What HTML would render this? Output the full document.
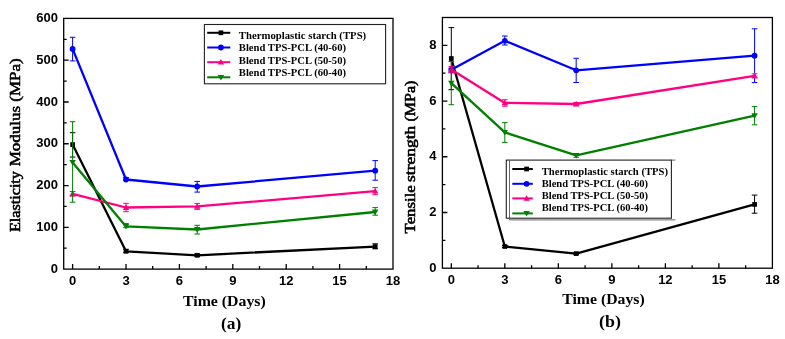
<!DOCTYPE html>
<html><head><meta charset="utf-8"><style>
html,body{margin:0;padding:0;background:#fff;}
svg{display:block;will-change:transform;}
.tk{font-family:"Liberation Sans",sans-serif;font-weight:bold;font-size:13px;fill:#000;}
.ax{font-family:"Liberation Serif",serif;font-weight:bold;font-size:14.5px;fill:#000;}
.axr{font-family:"Liberation Serif",serif;font-weight:normal;font-size:14.5px;fill:#000;stroke:#000;stroke-width:0.55px;}
.lg{font-family:"Liberation Serif",serif;font-weight:bold;font-size:11px;fill:#000;}
</style></head><body>
<svg width="785" height="339" viewBox="0 0 785 339">
<rect width="785" height="339" fill="#fff"/>
<rect x="63.7" y="18.4" width="329.30" height="250.70" fill="none" stroke="#000" stroke-width="1.3"/>
<path d="M72.60 269.10 V264.10 M126.00 269.10 V264.10 M179.40 269.10 V264.10 M232.80 269.10 V264.10 M286.20 269.10 V264.10 M339.60 269.10 V264.10 M99.30 269.10 V266.10 M152.70 269.10 V266.10 M206.10 269.10 V266.10 M259.50 269.10 V266.10 M312.90 269.10 V266.10 M366.30 269.10 V266.10 M63.70 227.32 H68.70 M63.70 185.54 H68.70 M63.70 143.76 H68.70 M63.70 101.98 H68.70 M63.70 60.20 H68.70 M63.70 248.21 H66.70 M63.70 206.43 H66.70 M63.70 164.65 H66.70 M63.70 122.87 H66.70 M63.70 81.09 H66.70 M63.70 39.31 H66.70 " stroke="#000" stroke-width="1.3" fill="none"/>
<text x="72.60" y="284.60" class="tk" text-anchor="middle">0</text>
<text x="126.00" y="284.60" class="tk" text-anchor="middle">3</text>
<text x="179.40" y="284.60" class="tk" text-anchor="middle">6</text>
<text x="232.80" y="284.60" class="tk" text-anchor="middle">9</text>
<text x="286.20" y="284.60" class="tk" text-anchor="middle">12</text>
<text x="339.60" y="284.60" class="tk" text-anchor="middle">15</text>
<text x="393.00" y="284.60" class="tk" text-anchor="middle">18</text>
<text x="57.90" y="272.70" class="tk" text-anchor="end">0</text>
<text x="57.90" y="230.92" class="tk" text-anchor="end">100</text>
<text x="57.90" y="189.14" class="tk" text-anchor="end">200</text>
<text x="57.90" y="147.36" class="tk" text-anchor="end">300</text>
<text x="57.90" y="105.58" class="tk" text-anchor="end">400</text>
<text x="57.90" y="63.80" class="tk" text-anchor="end">500</text>
<text x="57.90" y="22.02" class="tk" text-anchor="end">600</text>
<rect x="442.4" y="17.5" width="330.00" height="250.70" fill="none" stroke="#000" stroke-width="1.3"/>
<path d="M451.30 268.20 V263.20 M504.82 268.20 V263.20 M558.34 268.20 V263.20 M611.86 268.20 V263.20 M665.38 268.20 V263.20 M718.90 268.20 V263.20 M478.06 268.20 V265.20 M531.58 268.20 V265.20 M585.10 268.20 V265.20 M638.62 268.20 V265.20 M692.14 268.20 V265.20 M745.66 268.20 V265.20 M442.40 212.48 H447.40 M442.40 156.76 H447.40 M442.40 101.04 H447.40 M442.40 45.32 H447.40 M442.40 240.34 H445.40 M442.40 184.62 H445.40 M442.40 128.90 H445.40 M442.40 73.18 H445.40 " stroke="#000" stroke-width="1.3" fill="none"/>
<text x="451.30" y="283.70" class="tk" text-anchor="middle">0</text>
<text x="504.82" y="283.70" class="tk" text-anchor="middle">3</text>
<text x="558.34" y="283.70" class="tk" text-anchor="middle">6</text>
<text x="611.86" y="283.70" class="tk" text-anchor="middle">9</text>
<text x="665.38" y="283.70" class="tk" text-anchor="middle">12</text>
<text x="718.90" y="283.70" class="tk" text-anchor="middle">15</text>
<text x="772.42" y="283.70" class="tk" text-anchor="middle">18</text>
<text x="436.60" y="271.80" class="tk" text-anchor="end">0</text>
<text x="436.60" y="216.08" class="tk" text-anchor="end">2</text>
<text x="436.60" y="160.36" class="tk" text-anchor="end">4</text>
<text x="436.60" y="104.64" class="tk" text-anchor="end">6</text>
<text x="436.60" y="48.92" class="tk" text-anchor="end">8</text>
<path d="M72.60 144.60 L126.00 251.30 L197.20 255.30 L375.20 246.60" stroke="#000000" stroke-width="2.3" fill="none" stroke-linejoin="round"/>
<rect x="70.25" y="142.25" width="4.70" height="4.70" fill="#000000"/>
<rect x="123.65" y="248.95" width="4.70" height="4.70" fill="#000000"/>
<rect x="194.85" y="252.95" width="4.70" height="4.70" fill="#000000"/>
<rect x="372.85" y="244.25" width="4.70" height="4.70" fill="#000000"/>
<path d="M72.60 132.70 V157.10 M69.80 132.70 H75.40 M69.80 157.10 H75.40" stroke="#000000" stroke-width="1" fill="none"/>
<path d="M126.00 249.30 V252.30 M123.20 249.30 H128.80 M123.20 252.30 H128.80" stroke="#000000" stroke-width="1" fill="none"/>
<path d="M197.20 253.80 V256.40 M194.40 253.80 H200.00 M194.40 256.40 H200.00" stroke="#000000" stroke-width="1" fill="none"/>
<path d="M375.20 243.80 V248.80 M372.40 243.80 H378.00 M372.40 248.80 H378.00" stroke="#000000" stroke-width="1" fill="none"/>
<path d="M72.60 48.90 L126.00 179.50 L197.20 186.50 L375.20 170.70" stroke="#0000FF" stroke-width="2.3" fill="none" stroke-linejoin="round"/>
<circle cx="72.60" cy="48.90" r="2.90" fill="#0000FF"/>
<circle cx="126.00" cy="179.50" r="2.90" fill="#0000FF"/>
<circle cx="197.20" cy="186.50" r="2.90" fill="#0000FF"/>
<circle cx="375.20" cy="170.70" r="2.90" fill="#0000FF"/>
<path d="M72.60 37.30 V60.90 M69.80 37.30 H75.40 M69.80 60.90 H75.40" stroke="#0000FF" stroke-width="1" fill="none"/>
<path d="M126.00 177.50 V180.50 M123.20 177.50 H128.80 M123.20 180.50 H128.80" stroke="#0000FF" stroke-width="1" fill="none"/>
<path d="M197.20 181.40 V192.10 M194.40 181.40 H200.00 M194.40 192.10 H200.00" stroke="#0000FF" stroke-width="1" fill="none"/>
<path d="M375.20 160.60 V180.20 M372.40 160.60 H378.00 M372.40 180.20 H378.00" stroke="#0000FF" stroke-width="1" fill="none"/>
<path d="M72.60 193.80 L126.00 207.50 L197.20 206.40 L375.20 191.20" stroke="#FF0080" stroke-width="2.3" fill="none" stroke-linejoin="round"/>
<path d="M72.60 190.60 L75.80 196.20 L69.40 196.20Z" fill="#FF0080"/>
<path d="M126.00 204.30 L129.20 209.90 L122.80 209.90Z" fill="#FF0080"/>
<path d="M197.20 203.20 L200.40 208.80 L194.00 208.80Z" fill="#FF0080"/>
<path d="M375.20 188.00 L378.40 193.60 L372.00 193.60Z" fill="#FF0080"/>
<path d="M72.60 191.50 V196.10 M69.80 191.50 H75.40 M69.80 196.10 H75.40" stroke="#FF0080" stroke-width="1" fill="none"/>
<path d="M126.00 203.30 V211.70 M123.20 203.30 H128.80 M123.20 211.70 H128.80" stroke="#FF0080" stroke-width="1" fill="none"/>
<path d="M197.20 203.40 V209.40 M194.40 203.40 H200.00 M194.40 209.40 H200.00" stroke="#FF0080" stroke-width="1" fill="none"/>
<path d="M375.20 187.60 V194.70 M372.40 187.60 H378.00 M372.40 194.70 H378.00" stroke="#FF0080" stroke-width="1" fill="none"/>
<path d="M72.60 162.40 L126.00 226.40 L197.20 229.50 L375.20 212.00" stroke="#008000" stroke-width="2.3" fill="none" stroke-linejoin="round"/>
<path d="M72.60 165.60 L75.80 160.00 L69.40 160.00Z" fill="#008000"/>
<path d="M126.00 229.60 L129.20 224.00 L122.80 224.00Z" fill="#008000"/>
<path d="M197.20 232.70 L200.40 227.10 L194.00 227.10Z" fill="#008000"/>
<path d="M375.20 215.20 L378.40 209.60 L372.00 209.60Z" fill="#008000"/>
<path d="M72.60 121.70 V202.20 M69.80 121.70 H75.40 M69.80 202.20 H75.40" stroke="#008000" stroke-width="1" fill="none"/>
<path d="M126.00 223.60 V227.60 M123.20 223.60 H128.80 M123.20 227.60 H128.80" stroke="#008000" stroke-width="1" fill="none"/>
<path d="M197.20 225.30 V234.00 M194.40 225.30 H200.00 M194.40 234.00 H200.00" stroke="#008000" stroke-width="1" fill="none"/>
<path d="M375.20 207.60 V215.20 M372.40 207.60 H378.00 M372.40 215.20 H378.00" stroke="#008000" stroke-width="1" fill="none"/>
<path d="M451.30 58.50 L504.82 246.50 L576.18 253.60 L754.58 204.40" stroke="#000000" stroke-width="2.3" fill="none" stroke-linejoin="round"/>
<rect x="448.95" y="56.15" width="4.70" height="4.70" fill="#000000"/>
<rect x="502.47" y="244.15" width="4.70" height="4.70" fill="#000000"/>
<rect x="573.83" y="251.25" width="4.70" height="4.70" fill="#000000"/>
<rect x="752.23" y="202.05" width="4.70" height="4.70" fill="#000000"/>
<path d="M451.30 27.60 V89.70 M448.50 27.60 H454.10 M448.50 89.70 H454.10" stroke="#000000" stroke-width="1" fill="none"/>
<path d="M504.82 245.50 V247.50 M502.02 245.50 H507.62 M502.02 247.50 H507.62" stroke="#000000" stroke-width="1" fill="none"/>
<path d="M576.18 252.60 V254.60 M573.38 252.60 H578.98 M573.38 254.60 H578.98" stroke="#000000" stroke-width="1" fill="none"/>
<path d="M754.58 195.10 V213.20 M751.78 195.10 H757.38 M751.78 213.20 H757.38" stroke="#000000" stroke-width="1" fill="none"/>
<path d="M451.30 69.80 L504.82 40.80 L576.18 70.30 L754.58 55.70" stroke="#0000FF" stroke-width="2.3" fill="none" stroke-linejoin="round"/>
<circle cx="451.30" cy="69.80" r="2.90" fill="#0000FF"/>
<circle cx="504.82" cy="40.80" r="2.90" fill="#0000FF"/>
<circle cx="576.18" cy="70.30" r="2.90" fill="#0000FF"/>
<circle cx="754.58" cy="55.70" r="2.90" fill="#0000FF"/>
<path d="M451.30 68.30 V72.70 M448.50 68.30 H454.10 M448.50 72.70 H454.10" stroke="#0000FF" stroke-width="1" fill="none"/>
<path d="M504.82 36.00 V45.00 M502.02 36.00 H507.62 M502.02 45.00 H507.62" stroke="#0000FF" stroke-width="1" fill="none"/>
<path d="M576.18 58.30 V82.50 M573.38 58.30 H578.98 M573.38 82.50 H578.98" stroke="#0000FF" stroke-width="1" fill="none"/>
<path d="M754.58 28.80 V82.60 M751.78 28.80 H757.38 M751.78 82.60 H757.38" stroke="#0000FF" stroke-width="1" fill="none"/>
<path d="M451.30 69.60 L504.82 102.90 L576.18 104.00 L754.58 75.80" stroke="#FF0080" stroke-width="2.3" fill="none" stroke-linejoin="round"/>
<path d="M451.30 66.40 L454.50 72.00 L448.10 72.00Z" fill="#FF0080"/>
<path d="M504.82 99.70 L508.02 105.30 L501.62 105.30Z" fill="#FF0080"/>
<path d="M576.18 100.80 L579.38 106.40 L572.98 106.40Z" fill="#FF0080"/>
<path d="M754.58 72.60 L757.78 78.20 L751.38 78.20Z" fill="#FF0080"/>
<path d="M451.30 66.50 V72.70 M448.50 66.50 H454.10 M448.50 72.70 H454.10" stroke="#FF0080" stroke-width="1" fill="none"/>
<path d="M504.82 99.70 V106.20 M502.02 99.70 H507.62 M502.02 106.20 H507.62" stroke="#FF0080" stroke-width="1" fill="none"/>
<path d="M576.18 102.50 V105.50 M573.38 102.50 H578.98 M573.38 105.50 H578.98" stroke="#FF0080" stroke-width="1" fill="none"/>
<path d="M754.58 73.80 V77.80 M751.78 73.80 H757.38 M751.78 77.80 H757.38" stroke="#FF0080" stroke-width="1" fill="none"/>
<path d="M451.30 83.20 L504.82 132.40 L576.18 155.40 L754.58 115.70" stroke="#008000" stroke-width="2.3" fill="none" stroke-linejoin="round"/>
<path d="M451.30 86.40 L454.50 80.80 L448.10 80.80Z" fill="#008000"/>
<path d="M504.82 135.60 L508.02 130.00 L501.62 130.00Z" fill="#008000"/>
<path d="M576.18 158.60 L579.38 153.00 L572.98 153.00Z" fill="#008000"/>
<path d="M754.58 118.90 L757.78 113.30 L751.38 113.30Z" fill="#008000"/>
<path d="M451.30 61.50 V104.70 M448.50 61.50 H454.10 M448.50 104.70 H454.10" stroke="#008000" stroke-width="1" fill="none"/>
<path d="M504.82 122.60 V142.40 M502.02 122.60 H507.62 M502.02 142.40 H507.62" stroke="#008000" stroke-width="1" fill="none"/>
<path d="M576.18 153.50 V157.30 M573.38 153.50 H578.98 M573.38 157.30 H578.98" stroke="#008000" stroke-width="1" fill="none"/>
<path d="M754.58 106.60 V124.80 M751.78 106.60 H757.38 M751.78 124.80 H757.38" stroke="#008000" stroke-width="1" fill="none"/>
<rect x="204.4" y="24.5" width="181.20" height="59.30" fill="#fff" stroke="#222" stroke-width="1.1"/>
<path d="M207.2 32.80 H230.3" stroke="#000000" stroke-width="2"/>
<rect x="218.55" y="30.45" width="4.70" height="4.70" fill="#000000"/>
<text x="238.8" y="38.80" class="lg" textLength="127.4" lengthAdjust="spacingAndGlyphs">Thermoplastic starch (TPS)</text>
<path d="M207.2 47.50 H230.3" stroke="#0000FF" stroke-width="2"/>
<circle cx="220.90" cy="47.50" r="2.90" fill="#0000FF"/>
<text x="238.8" y="51.10" class="lg" textLength="107.2" lengthAdjust="spacingAndGlyphs">Blend TPS-PCL (40-60)</text>
<path d="M207.2 62.20 H230.3" stroke="#FF0080" stroke-width="2"/>
<path d="M220.90 59.00 L224.10 64.60 L217.70 64.60Z" fill="#FF0080"/>
<text x="238.8" y="63.50" class="lg" textLength="107.2" lengthAdjust="spacingAndGlyphs">Blend TPS-PCL (50-50)</text>
<path d="M207.2 77.30 H230.3" stroke="#008000" stroke-width="2"/>
<path d="M220.90 80.50 L224.10 74.90 L217.70 74.90Z" fill="#008000"/>
<text x="238.8" y="75.80" class="lg" textLength="107.2" lengthAdjust="spacingAndGlyphs">Blend TPS-PCL (60-40)</text>
<rect x="506.3" y="160.1" width="165.10" height="58.10" fill="#fff" stroke="#222" stroke-width="1.1"/>
<path d="M509.5 160.6 V219.9 H675.4 M671.4 160.1 H675.4" stroke="#555" stroke-width="0.9" fill="none"/>
<path d="M512.3 169.00 H532.8" stroke="#000000" stroke-width="2"/>
<rect x="524.25" y="166.65" width="4.70" height="4.70" fill="#000000"/>
<text x="541.7" y="174.70" class="lg" textLength="126.3" lengthAdjust="spacingAndGlyphs">Thermoplastic starch (TPS)</text>
<path d="M512.3 183.80 H532.8" stroke="#0000FF" stroke-width="2"/>
<circle cx="526.60" cy="183.80" r="2.90" fill="#0000FF"/>
<text x="541.7" y="187.10" class="lg" textLength="106.3" lengthAdjust="spacingAndGlyphs">Blend TPS-PCL (40-60)</text>
<path d="M512.3 198.40 H532.8" stroke="#FF0080" stroke-width="2"/>
<path d="M526.60 195.20 L529.80 200.80 L523.40 200.80Z" fill="#FF0080"/>
<text x="541.7" y="199.40" class="lg" textLength="106.3" lengthAdjust="spacingAndGlyphs">Blend TPS-PCL (50-50)</text>
<path d="M512.3 213.40 H532.8" stroke="#008000" stroke-width="2"/>
<path d="M526.60 216.60 L529.80 211.00 L523.40 211.00Z" fill="#008000"/>
<text x="541.7" y="211.40" class="lg" textLength="106.3" lengthAdjust="spacingAndGlyphs">Blend TPS-PCL (60-40)</text>
<text transform="translate(20,232.0) rotate(-90)" class="axr" textLength="60.9" lengthAdjust="spacingAndGlyphs">Elasticity</text>
<text transform="translate(20,166.2) rotate(-90)" class="axr" textLength="107.8" lengthAdjust="spacingAndGlyphs">Modulus (MPa)</text>
<text transform="translate(414.6,233.4) rotate(-90)" class="axr" style="font-size:13.6px" textLength="48.2" lengthAdjust="spacingAndGlyphs">Tensile</text>
<text transform="translate(414.6,182.0) rotate(-90)" class="axr" style="font-size:13.6px" textLength="56.2" lengthAdjust="spacingAndGlyphs">strength</text>
<text transform="translate(414.6,121.6) rotate(-90)" class="axr" style="font-size:13.6px" textLength="41.0" lengthAdjust="spacingAndGlyphs">(MPa)</text>
<text x="183.0" y="305.8" class="ax" textLength="82.8" lengthAdjust="spacingAndGlyphs">Time (Days)</text>
<text x="562.2" y="303.8" class="ax" textLength="82.5" lengthAdjust="spacingAndGlyphs">Time (Days)</text>
<text x="221.0" y="329.4" class="ax" style="font-size:16.3px" textLength="20.3" lengthAdjust="spacingAndGlyphs">(a)</text>
<text x="599.0" y="327.3" class="ax" style="font-size:16.3px" textLength="21.9" lengthAdjust="spacingAndGlyphs">(b)</text>
</svg>
</body></html>
